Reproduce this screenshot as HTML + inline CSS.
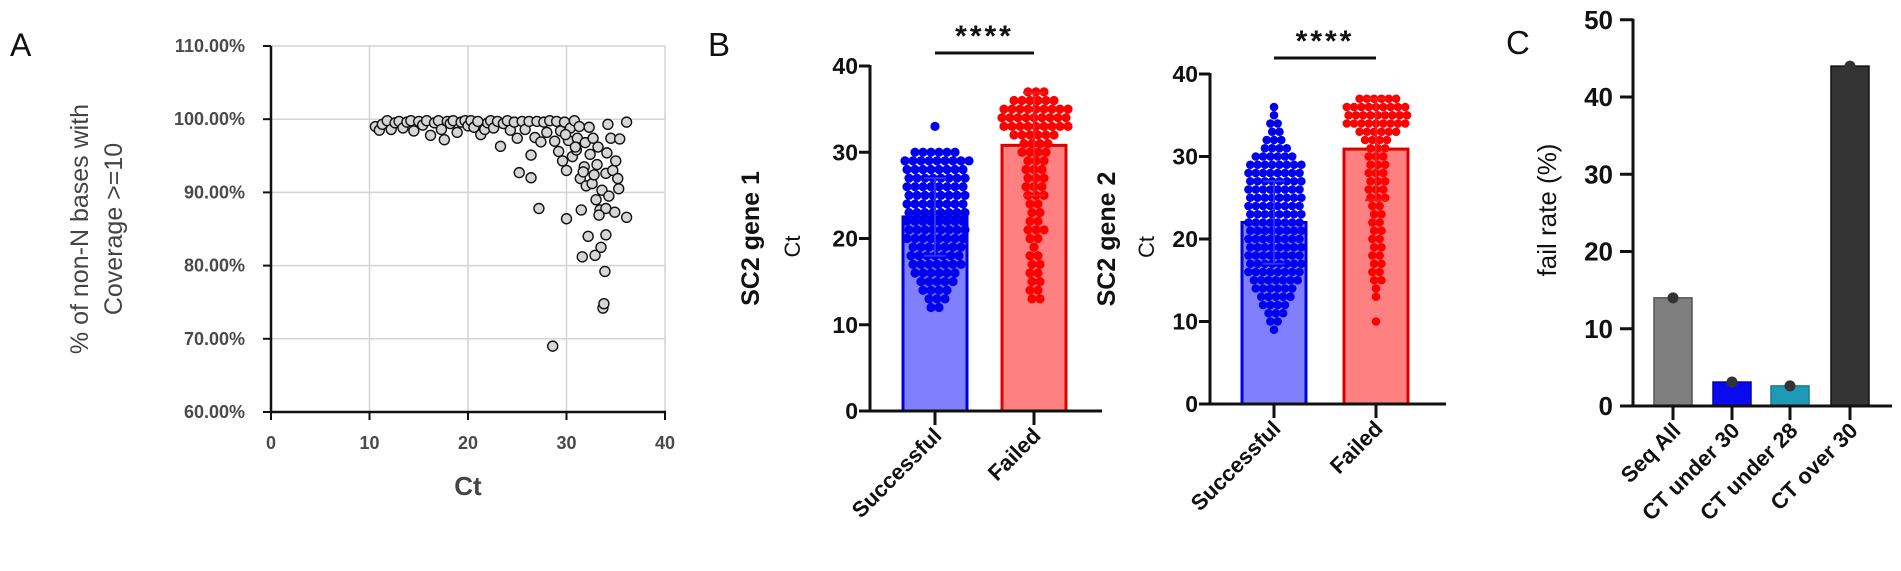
<!DOCTYPE html>
<html><head><meta charset="utf-8"><style>
html,body{margin:0;padding:0;background:#fff;}
svg{display:block;font-family:"Liberation Sans",Arial,sans-serif;}
</style></head><body>
<svg id="fig" width="1901" height="571" viewBox="0 0 1901 571">
<g id="pA"></g>
<g id="pB1"></g>
<g id="pB2"></g>
<g id="pC"></g>
</svg>
<script>
// ---------- Panel A data ----------
const aCt = [10.6,11,11.3,11.8,12.2,12.6,13,13.4,13.8,14.2,14.5,15,15.4,15.8,16.2,16.6,17,17.3,17.6,17.9,18.2,18.5,18.9,19.3,19.7,20,20.3,20.6,21,21.3,21.7,22,22.3,22.6,23,23.3,23.6,24,24.3,24.7,25,25.2,25.5,25.8,26.2,26.4,26.4,26.8,27,27.2,27.4,27.7,28,28.3,28.6,28.8,29,29.2,29.4,29.6,29.8,30,30,30.2,30.4,30.6,30.8,31,31.1,31.3,31.4,31.5,31.6,31.8,31.9,32,32.2,32.3,32.4,32.6,32.7,32.9,33,33.1,33.2,33.4,33.5,33.6,33.7,33.8,33.9,34,34,34,34.1,34.2,34.3,34.5,34.7,34.9,35,35.2,35.3,35.4,36.1,36.1,32.8,33.3,31.7,30.9,29.9];
const aPct = [99.0,98.5,99.3,99.8,98.6,99.5,99.7,98.8,99.6,99.8,98.4,99.7,99.2,99.8,97.8,99.5,99.8,98.6,97.2,99.7,99.4,99.8,98.2,99.6,99.8,99.1,99.8,98.9,99.7,97.9,98.6,99.5,99.8,98.8,99.7,96.3,99.4,99.8,98.5,99.6,97.4,92.7,99.7,98.6,99.7,95.1,92.0,97.5,99.7,87.8,96.9,99.6,98.2,99.8,69.0,97.0,99.7,95.6,98.4,94.3,99.6,93.0,86.4,97.1,98.8,94.9,99.8,95.8,97.4,99.0,91.9,87.6,81.2,93.5,96.8,90.9,84.0,98.9,95.2,91.2,97.4,81.4,89.0,93.8,96.2,87.6,82.5,90.3,74.2,74.8,79.2,84.2,87.8,92.6,95.4,99.3,89.5,97.4,93.0,87.3,94.3,91.9,90.5,97.3,99.6,86.6,92.4,86.9,92.8,96.2,97.9];
const aXTicks = [0,10,20,30,40];
const aYTicks = [60,70,80,90,100,110];

// ---------- Panel B data (dot counts per 1-Ct bin) ----------
const b1SuccBins = [12,13,14,15,16,17,18,19,20,21,22,23,24,25,26,27,28,29,30,33];
const b1SuccCounts = [2,3,4,5,6,7,7,7,8,8,8,8,8,8,8,8,8,9,6,1];
const b1FailBins = [13,14,15,16,17,18,19,20,21,22,23,24,25,26,27,28,29,30,31,32,33,34,35,36,37];
const b1FailCounts = [2,2,2,2,2,2,1,2,3,2,2,2,3,3,3,3,3,4,4,6,9,9,9,6,3];
const b1Means = [22.5, 30.8];
const b1SdLow = [18.0, 25.0];
const b1SdHigh = [27.0, 36.9];
const b2SuccBins = [9,10,11,12,13,14,15,16,17,18,19,20,21,22,23,24,25,26,27,28,29,30,31,32,33,34,35,36];
const b2SuccCounts = [1,2,3,4,5,6,7,8,8,8,8,8,8,8,8,8,8,8,8,8,8,6,4,3,2,2,1,1];
const b2FailBins = [10,13,14,15,16,17,18,19,20,21,22,23,24,25,26,27,28,29,30,31,32,33,34,35,36,37];
const b2FailCounts = [1,1,1,2,2,2,2,2,2,2,2,2,2,3,3,3,3,3,3,3,4,6,9,9,9,6];
const b2Means = [22.0, 30.9];
const b2SdLow = [17.0, 24.7];
const b2SdHigh = [27.0, 37.0];
const bCats = ["Successful","Failed"];
const bTicks = [0,10,20,30,40];

// ---------- Panel C data ----------
const cCats = ["Seq All","CT under 30","CT under 28","CT over 30"];
const cVals = [14.0, 3.1, 2.6, 44.0];
const cTicks = [0,10,20,30,40,50];

const NS = "http://www.w3.org/2000/svg";
function mk(parent, tag, attrs, text){
  const e = document.createElementNS(NS, tag);
  for (const k in attrs) e.setAttribute(k, attrs[k]);
  if (text !== undefined) e.textContent = text;
  parent.appendChild(e);
  return e;
}

// ================= Panel A =================
(function(){
  const g = document.getElementById('pA');
  const x = v => 271 + (v-0)*(665-271)/40;
  const y = v => 412 - (v-60)*(412-46)/50;
  let t = mk(g,'text',{x:10,y:56,'font-size':32,fill:'#111'},'A');
   
  aYTicks.forEach(v=>{
    let l = mk(g,'line',{x1:271,x2:665,y1:y(v),y2:y(v),stroke:'#d4d4d4','stroke-width':1.5});
     
    let tl = mk(g,'text',{x:245,y:y(v)+6,'text-anchor':'end','font-size':18,'font-weight':'bold',fill:'#4a4a4a'},v.toFixed(2)+'%');
     
    let tk = mk(g,'line',{x1:263,x2:271,y1:y(v),y2:y(v),stroke:'#111','stroke-width':2});
     
  });
  aXTicks.forEach(v=>{
    if (v>0){ let l = mk(g,'line',{x1:x(v),x2:x(v),y1:46,y2:412,stroke:'#d4d4d4','stroke-width':1.5});
        }
    let tk = mk(g,'line',{x1:x(v),x2:x(v),y1:412,y2:420,stroke:'#111','stroke-width':2});
     
    let tl = mk(g,'text',{x:x(v),y:449,'text-anchor':'middle','font-size':18,'font-weight':'bold',fill:'#4a4a4a'},String(v));
     
  });
  let ax = mk(g,'line',{x1:271,x2:271,y1:46,y2:413,stroke:'#111','stroke-width':2.5});
   
  let bx = mk(g,'line',{x1:270,x2:666,y1:412,y2:412,stroke:'#111','stroke-width':2.5});
   
  aCt.forEach((c,i)=>{
    let p = mk(g,'circle',{cx:x(c),cy:y(aPct[i]),r:5,fill:'#d6d6d6',stroke:'#111','stroke-width':1.4});
     
  });
  let xt = mk(g,'text',{x:468,y:495,'text-anchor':'middle','font-size':26,'font-weight':'bold',fill:'#444'},'Ct');
   
  let yt = mk(g,'text',{transform:'translate(88,229) rotate(-90)','text-anchor':'middle','font-size':25,fill:'#444'},'% of non-N bases with');
   
  let yt2 = mk(g,'text',{transform:'translate(122,229) rotate(-90)','text-anchor':'middle','font-size':25,fill:'#444'},'Coverage >=10');
   
})();

// ================= Panel B =================
function swarm(g, bins, counts, xc, y, r, sp, color, name){
  bins.forEach((b,i)=>{
    const n = counts[i];
    const shift = (Math.round(b)%2) ? sp/2 : 0;
    for (let k=0;k<n;k++){
      const off = (k - (n-1)/2)*sp + (n>1?shift*0.5:0);
      let c = mk(g,'circle',{cx:xc+off,cy:y(b),r:r,fill:color});
      
      
    }
  });
}
function drawB(gid, o){
  const g = document.getElementById(gid);
  const y = v => o.y0 - v*(o.y0-o.y40)/40;
  const fills = ['#8080ff','#ff8080'], strokes=['#0000dd','#dd0000'], dots=['#0000ee','#ff0000'];
  o.means.forEach((m,i)=>{
    const cx = o.cx[i];
    let b = mk(g,'rect',{x:cx-o.bw/2,y:y(m),width:o.bw,height:o.y0-y(m),fill:fills[i],stroke:strokes[i],'stroke-width':3});
    
    
  });
  swarm(g,o.sb,o.sc,o.cx[0],y,o.r,o.sp,dots[0],'dot-successful');
  swarm(g,o.fb,o.fc,o.cx[1],y,o.r,o.sp,dots[1],'dot-failed');
  o.means.forEach((m,i)=>{
    const cx=o.cx[i], col=i===0?'#3030ff':'#ee2020';
    let e = mk(g,'line',{x1:cx,x2:cx,y1:y(o.lo[i]),y2:y(o.hi[i]),stroke:col,'stroke-width':2});
     
    [o.lo[i],o.hi[i]].forEach(v=>{
      let c = mk(g,'line',{x1:cx-11,x2:cx+11,y1:y(v),y2:y(v),stroke:col,'stroke-width':2});
       
    });
  });
  let ax = mk(g,'line',{x1:o.ax,x2:o.ax,y1:y(40)-1,y2:o.y0+1,stroke:'#111','stroke-width':3});
   
  let bx = mk(g,'line',{x1:o.ax-1,x2:o.xe,y1:o.y0,y2:o.y0,stroke:'#111','stroke-width':3});
   
  bTicks.forEach(v=>{
    let tk = mk(g,'line',{x1:o.ax-11,x2:o.ax,y1:y(v),y2:y(v),stroke:'#111','stroke-width':3});
     
    let tl = mk(g,'text',{x:o.ax-12,y:y(v)+8,'text-anchor':'end','font-size':23,'font-weight':'bold',fill:'#111'},String(v));
     
  });
  bCats.forEach((c,i)=>{
    let tk = mk(g,'line',{x1:o.cx[i],x2:o.cx[i],y1:o.y0,y2:o.y0+14,stroke:'#111','stroke-width':3});
     
    let tl = mk(g,'text',{transform:`translate(${o.cx[i]+8},${o.y0+26}) rotate(-45)`,'text-anchor':'end','font-size':22,'font-weight':'bold',fill:'#111'},c);
     
  });
  let sl = mk(g,'line',{x1:o.cx[0],x2:o.cx[1],y1:o.sigY,y2:o.sigY,stroke:'#111','stroke-width':3});
   
  let st = mk(g,'text',{x:(o.cx[0]+o.cx[1])/2,y:o.sigY-7,'text-anchor':'middle','font-size':30,'font-weight':'bold',fill:'#111','letter-spacing':3},'****');
   
  let y1 = mk(g,'text',{transform:`translate(${o.tx1},${(o.y0+y(40))/2}) rotate(-90)`,'text-anchor':'middle','font-size':25,'font-weight':'bold',fill:'#111'},o.title);
   
  let y2 = mk(g,'text',{transform:`translate(${o.tx2},${(o.y0+y(40))/2+8}) rotate(-90)`,'text-anchor':'middle','font-size':22,fill:'#111'},'Ct');
   
}
drawB('pB1',{y0:411,y40:66,ax:870,xe:1102,cx:[935,1034],bw:64,means:b1Means,lo:b1SdLow,hi:b1SdHigh,
  sb:b1SuccBins,sc:b1SuccCounts,fb:b1FailBins,fc:b1FailCounts,r:4.6,sp:8,sigY:53,tx1:759,tx2:800,title:'SC2 gene 1'});
drawB('pB2',{y0:404,y40:74,ax:1210,xe:1446,cx:[1274,1376],bw:64,means:b2Means,lo:b2SdLow,hi:b2SdHigh,
  sb:b2SuccBins,sc:b2SuccCounts,fb:b2FailBins,fc:b2FailCounts,r:4.3,sp:7.3,sigY:58,tx1:1115,tx2:1154,title:'SC2 gene 2'});
(function(){
  const g=document.getElementById('pB1');
  let t = mk(g,'text',{x:708,y:56,'font-size':33,fill:'#111'},'B');
   
})();

// ================= Panel C =================
(function(){
  const g = document.getElementById('pC');
  const y = v => 406 - v*(406-97)/40;
  const cx = [1673,1732,1790,1850];
  const fills = ['#7f7f7f','#0a0aee','#1e9ab8','#333333'];
  const strokes = ['#555','#0000aa','#177a90','#111'];
  let t = mk(g,'text',{x:1506,y:54,'font-size':33,fill:'#111'},'C');
   
  cVals.forEach((v,i)=>{
    let b = mk(g,'rect',{x:cx[i]-19,y:y(v),width:38,height:406-y(v),fill:fills[i],stroke:strokes[i],'stroke-width':1.5});
    
    
    let d = mk(g,'circle',{cx:cx[i],cy:y(v),r:5.5,fill:'#333'});
     
    let tk = mk(g,'line',{x1:cx[i],x2:cx[i],y1:406,y2:420,stroke:'#111','stroke-width':3});
     
    let tl = mk(g,'text',{transform:`translate(${cx[i]+9},${432}) rotate(-45)`,'text-anchor':'end','font-size':22,'font-weight':'bold',fill:'#111'},cCats[i]);
     
  });
  let ax = mk(g,'line',{x1:1633,x2:1633,y1:y(50)-1,y2:407,stroke:'#111','stroke-width':3});
   
  let bx = mk(g,'line',{x1:1632,x2:1892,y1:406,y2:406,stroke:'#111','stroke-width':3});
   
  cTicks.forEach(v=>{
    let tk = mk(g,'line',{x1:1620,x2:1633,y1:y(v),y2:y(v),stroke:'#111','stroke-width':3});
     
    let tl = mk(g,'text',{x:1613,y:y(v)+9,'text-anchor':'end','font-size':26,'font-weight':'bold',fill:'#111'},String(v));
     
  });
  let yt = mk(g,'text',{transform:'translate(1556,210) rotate(-90)','text-anchor':'middle','font-size':26,fill:'#111'},'fail rate  (%)');
   
})();
</script>
</body></html>
